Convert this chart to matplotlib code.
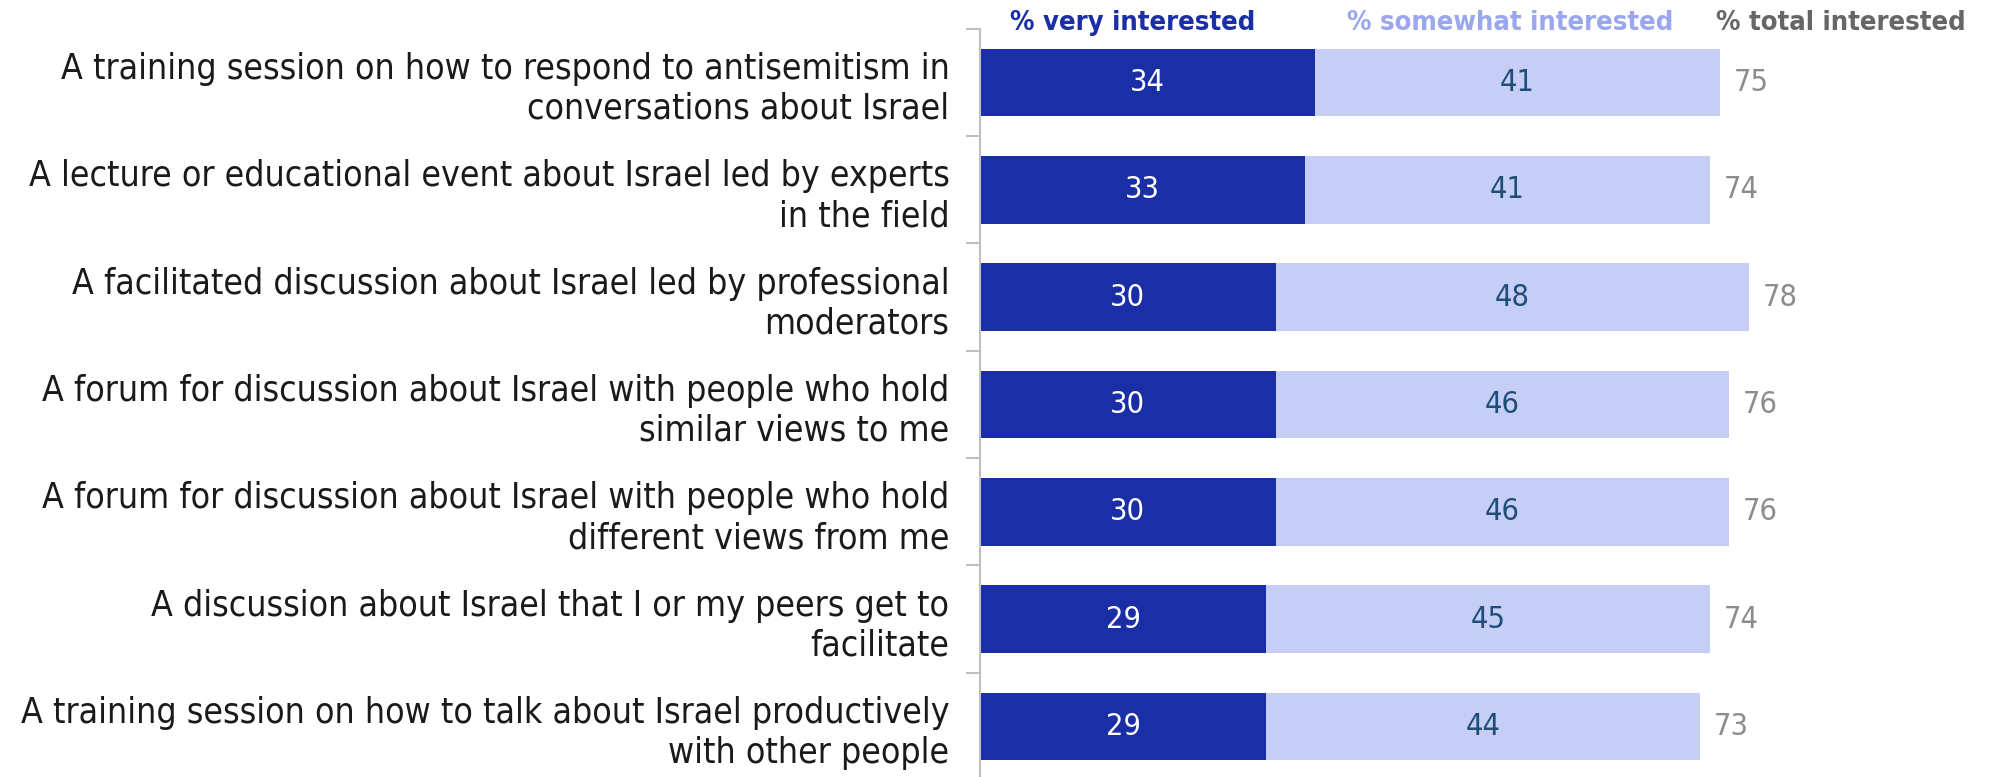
import matplotlib
matplotlib.use("Agg")
import matplotlib.pyplot as plt
from matplotlib import font_manager

# datos del grafico
categorias = [
    "A training session on how to respond to antisemitism in\nconversations about Israel",
    "A lecture or educational event about Israel led by experts\nin the field",
    "A facilitated discussion about Israel led by professional\nmoderators",
    "A forum for discussion about Israel with people who hold\nsimilar views to me",
    "A forum for discussion about Israel with people who hold\ndifferent views from me",
    "A discussion about Israel that I or my peers get to\nfacilitate",
    "A training session on how to talk about Israel productively\nwith other people",
]
muy_interesado = [34, 33, 30, 30, 30, 29, 29]
algo_interesado = [41, 41, 48, 46, 46, 45, 44]
total_interesado = [75, 74, 78, 76, 76, 74, 73]
encabezados = ["% very interested", "% somewhat interested", "% total interested"]

AZUL = "#1a2ea6"
AZUL_CLARO = "#c7cef6"

# buscar una fuente estrecha si existe
nombres = {f.name for f in font_manager.fontManager.ttflist}
if "Liberation Sans Narrow" in nombres:
    FUENTE = ["Liberation Sans Narrow"]
    ESTIRA = "normal"
else:
    FUENTE = ["DejaVu Sans"]
    ESTIRA = "condensed"
plt.rcParams["font.family"] = FUENTE
plt.rcParams["font.stretch"] = ESTIRA

fig = plt.figure(figsize=(19.93, 7.77), dpi=100)
ax = fig.add_axes([0.4917, -0.004, 0.4948, 0.967])

y = list(range(len(categorias)))
ax.barh(y, muy_interesado, height=0.63, color=AZUL)
ax.barh(y, algo_interesado, left=muy_interesado, height=0.63, color=AZUL_CLARO)

for i in y:
    ax.text(muy_interesado[i] / 2, i, str(muy_interesado[i]), ha="center", va="center",
            color="white", fontsize=22)
    ax.text(muy_interesado[i] + algo_interesado[i] / 2, i, str(algo_interesado[i]),
            ha="center", va="center", color="#1f4e79", fontsize=22)
    ax.text(total_interesado[i] + 1.4, i, str(total_interesado[i]), ha="left", va="center",
            color="#8c8c8c", fontsize=22)

ax.set_xlim(0, 100)
ax.set_ylim(len(categorias) - 0.5, -0.5)
ax.set_yticks(y)
ax.set_yticklabels(categorias, fontsize=25.6, color="#1a1a1a", linespacing=1.22)
ax.set_yticks([i - 0.5 for i in y], minor=True)
ax.tick_params(axis="y", which="major", length=0, pad=22)
ax.tick_params(axis="y", which="minor", length=10, width=1.5, color="#bfbfbf")
ax.set_xticks([])
for lado in ["top", "right", "bottom"]:
    ax.spines[lado].set_visible(False)
ax.spines["left"].set_color("#bfbfbf")
ax.spines["left"].set_linewidth(1.5)

# encabezados de columnas
y_enc = 1.0 + 6 / 751
ax.text(15.5, y_enc, encabezados[0], transform=ax.get_xaxis_transform(), ha="center",
        va="center", fontsize=19.6, fontweight="bold", color=AZUL)
ax.text(53.8, y_enc, encabezados[1], transform=ax.get_xaxis_transform(), ha="center",
        va="center", fontsize=19.6, fontweight="bold", color="#9aa6ee")
ax.text(100, y_enc, encabezados[2], transform=ax.get_xaxis_transform(), ha="right",
        va="center", fontsize=19.6, fontweight="bold", color="#666666")

fig.savefig("out.png", dpi=100)
